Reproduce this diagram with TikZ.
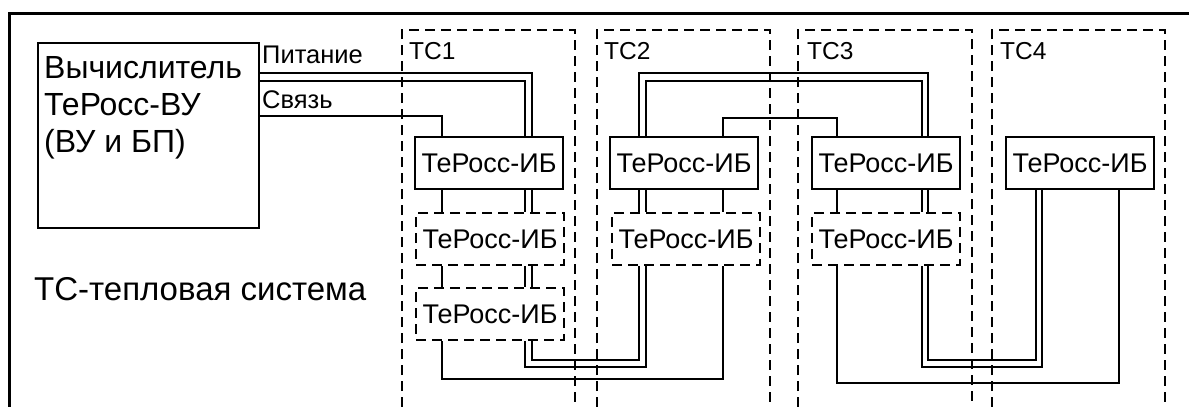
\documentclass[tikz,border=0pt]{standalone}
\usepackage{fontspec}
\setmainfont{Liberation Sans}
\begin{document}
\begin{tikzpicture}[x=1pt,y=-1pt,
  wire/.style={line width=2.6pt},
  frame/.style={line width=3pt},
  tcbox/.style={line width=2.8pt, dash pattern=on 10pt off 6pt},
  ibsolid/.style={draw, line width=2.6pt, minimum width=148pt, minimum height=52pt, inner sep=0pt, font=\fontsize{27}{32}\selectfont},
  ibdash/.style={ibsolid, line width=2.8pt, dash pattern=on 10pt off 6pt},
  lbl/.style={anchor=base west, inner sep=0pt, font=\fontsize{24.5}{28}\selectfont},
  small/.style={anchor=base west, inner sep=0pt, font=\fontsize{25.5}{30}\selectfont},
  big/.style={anchor=base west, inner sep=0pt, font=\fontsize{32}{38}\selectfont},
  legend/.style={anchor=base west, inner sep=0pt, font=\fontsize{33}{38}\selectfont}]
\useasboundingbox (0,0) rectangle (1189,407);
% outer frame
\draw[frame] (9,407) -- (9,13) -- (1189,13);
% TC containers
\draw[tcbox] (402,407) -- (402,30) -- (575,30) -- (575,407);
\draw[tcbox] (597,407) -- (597,30) -- (770,30) -- (770,407);
\draw[tcbox] (798,407) -- (798,30) -- (972,30) -- (972,407);
\draw[tcbox] (992,407) -- (992,30) -- (1165,30) -- (1165,407);
\node[lbl] (tc1) at (409,59) {ТС1};
\node[lbl] (tc2) at (604,59) {ТС2};
\node[lbl] (tc3) at (807,59) {ТС3};
\node[lbl] (tc4) at (1000,59) {ТС4};
% main unit
\node[draw, line width=2.6pt, minimum width=221pt, minimum height=185pt, inner sep=0pt] (vu) at (148.5,135.5) {};
\node[big] (vu1) at (44,78) {Вычислитель};
\node[big] (vu2) at (44,115) {ТеРосс-ВУ};
\node[big] (vu3) at (44,152) {(ВУ и БП)};
\node[small] (pit) at (262,63) {Питание};
\node[small] (sv) at (262,108) {Связь};
\node[legend] (leg) at (34,300) {ТС-тепловая система};
% IB units
\node[ibsolid] (ib1) at (489,163) {ТеРосс-ИБ};
\node[ibdash] (ib1a) at (490,239) {ТеРосс-ИБ};
\node[ibdash] (ib1b) at (490,314) {ТеРосс-ИБ};
\node[ibsolid] (ib2) at (684,163) {ТеРосс-ИБ};
\node[ibdash] (ib2a) at (686,239) {ТеРосс-ИБ};
\node[ibsolid] (ib3) at (886,163) {ТеРосс-ИБ};
\node[ibdash] (ib3a) at (886,239) {ТеРосс-ИБ};
\node[ibsolid] (ib4) at (1080,163) {ТеРосс-ИБ};
% wires from main unit
\draw[wire] (vu.east |- 0,73) -| (ib1.north -| 532,0);
\draw[wire] (vu.east |- 0,81) -| (ib1.north -| 525,0);
\draw[wire] (vu.east |- 0,116) -| (ib1.north -| 442,0);
% TC1 internal
\foreach \xx in {442,525,532} {
  \draw[wire] (ib1.south -| \xx,0) -- (ib1a.north -| \xx,0);
  \draw[wire] (ib1a.south -| \xx,0) -- (ib1b.north -| \xx,0);
}
% TC1 -> TC2
\draw[wire] (ib1b.south -| 525,0) |- (646,367) -- (ib2a.south -| 646,0);
\draw[wire] (ib1b.south -| 532,0) |- (639,360) -- (ib2a.south -| 639,0);
\draw[wire] (ib1b.south -| 442,0) |- (723,379) -- (ib2a.south -| 723,0);
% TC2 internal
\foreach \xx in {639,646,723} {
  \draw[wire] (ib2.south -| \xx,0) -- (ib2a.north -| \xx,0);
}
% TC2 -> TC3
\draw[wire] (ib2.north -| 639,0) |- (928,73) -- (ib3.north -| 928,0);
\draw[wire] (ib2.north -| 646,0) |- (922,81) -- (ib3.north -| 922,0);
\draw[wire] (ib2.north -| 723,0) |- (837,118) -- (ib3.north -| 837,0);
% TC3 internal
\foreach \xx in {837,922,928} {
  \draw[wire] (ib3.south -| \xx,0) -- (ib3a.north -| \xx,0);
}
% TC3 -> TC4
\draw[wire] (ib3a.south -| 922,0) |- (1042,367) -- (ib4.south -| 1042,0);
\draw[wire] (ib3a.south -| 928,0) |- (1036,360) -- (ib4.south -| 1036,0);
\draw[wire] (ib3a.south -| 837,0) |- (1119,383) -- (ib4.south -| 1119,0);
\end{tikzpicture}
\end{document}
